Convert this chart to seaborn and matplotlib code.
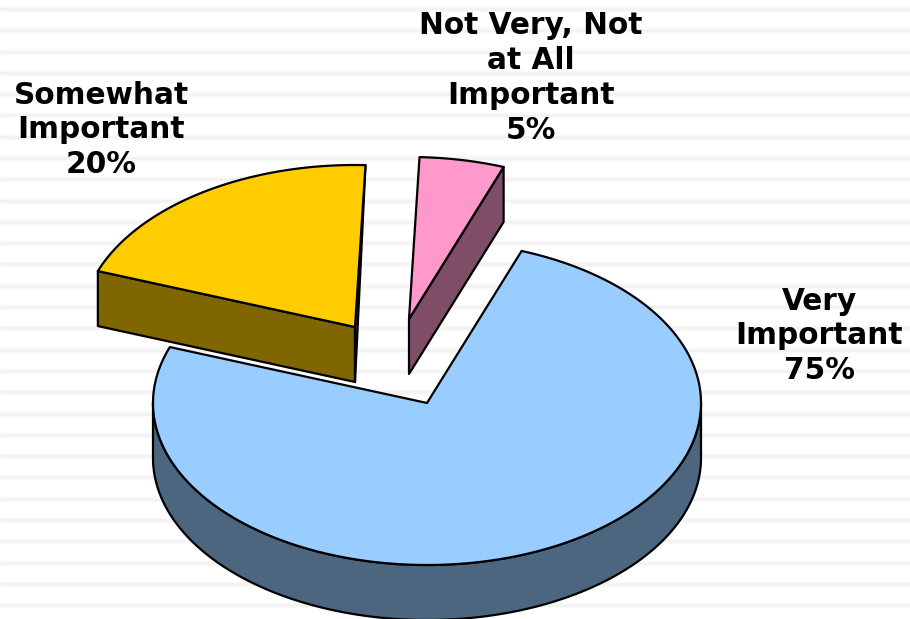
import numpy as np
import matplotlib
matplotlib.use("Agg")
import matplotlib.pyplot as plt
import seaborn as sns

categories = ["Very\nImportant", "Somewhat\nImportant", "Not Very, Not\nat All\nImportant"]
shares = [75, 20, 5]
top_colors = ["#99CCFF", "#FFCC00", "#FF99CC"]

sns.set_theme(style="white")
palette = sns.color_palette(top_colors)
side_palette = [tuple(c * 0.5 for c in col) for col in palette]

fig, ax = plt.subplots(figsize=(9.1, 6.19), dpi=100)
fig.subplots_adjust(0, 0, 1, 1)
ax.set_xlim(0, 910)
ax.set_ylim(619, 0)
ax.axis("off")

# background stripes
stripe_y = 9 + 21.29 * np.arange(29)
ax.hlines(stripe_y, 0, 910, color="#FBFBFB", lw=4.5, zorder=0)
ax.hlines(stripe_y, 0, 910, color="#F3F3F3", lw=2.2, zorder=0)

CX, CY, RX, RY, DEPTH = 427, 403, 274, 162, 55
START = 20.2
offsets = [(0, 0), (-72, -76), (-18, -84)]
label_pos = [(819, 336), (101, 130), (531, 78)]
EDGE = dict(edgecolor="black", linewidth=1.6, joinstyle="round")


def rim(a0, a1, dx, dy):
    t = np.radians(np.linspace(a0, a1, 240))
    return np.column_stack([CX + dx + RX * np.sin(t), CY + dy - RY * np.cos(t)])


angle = START
spans = []
for s in shares:
    spans.append((angle, angle + 360 * s / sum(shares)))
    angle = spans[-1][1]

for i, ((a0, a1), (dx, dy)) in enumerate(zip(spans, offsets)):
    apex = np.array([CX + dx, CY + dy])
    arc = rim(a0, a1, dx, dy)
    z = 2 + i * 2
    down = np.array([0, DEPTH])
    if i == 0:
        # outer wall of the large slice: lower half of the rim
        wall = rim(90, 270, dx, dy)
        ax.fill(*np.vstack([wall, wall[::-1] + down]).T, facecolor=side_palette[i], zorder=z, **EDGE)
    elif i == 1:
        # radial front wall plus thin sliver on the right
        p = arc[0]
        ax.fill(*np.array([p, p + down, apex + down, apex]).T, facecolor=side_palette[i], zorder=z, **EDGE)
        q = arc[-1]
        ax.fill(*np.array([q, apex, apex + down]).T, facecolor=side_palette[i], zorder=z, **EDGE)
    else:
        q = arc[-1]
        ax.fill(*np.array([apex, q, q + down, apex + down]).T, facecolor=side_palette[i], zorder=z, **EDGE)
    ax.fill(*np.vstack([apex, arc]).T, facecolor=palette[i], zorder=z + 1, **EDGE)

for cat, s, (x, y) in zip(categories, shares, label_pos):
    ax.text(x, y, f"{cat}\n{s}%", ha="center", va="center", fontsize=21.3,
            fontweight="bold", family="DejaVu Sans", color="black",
            linespacing=1.25, zorder=10)

fig.savefig("out.png", dpi=100, facecolor="white")
